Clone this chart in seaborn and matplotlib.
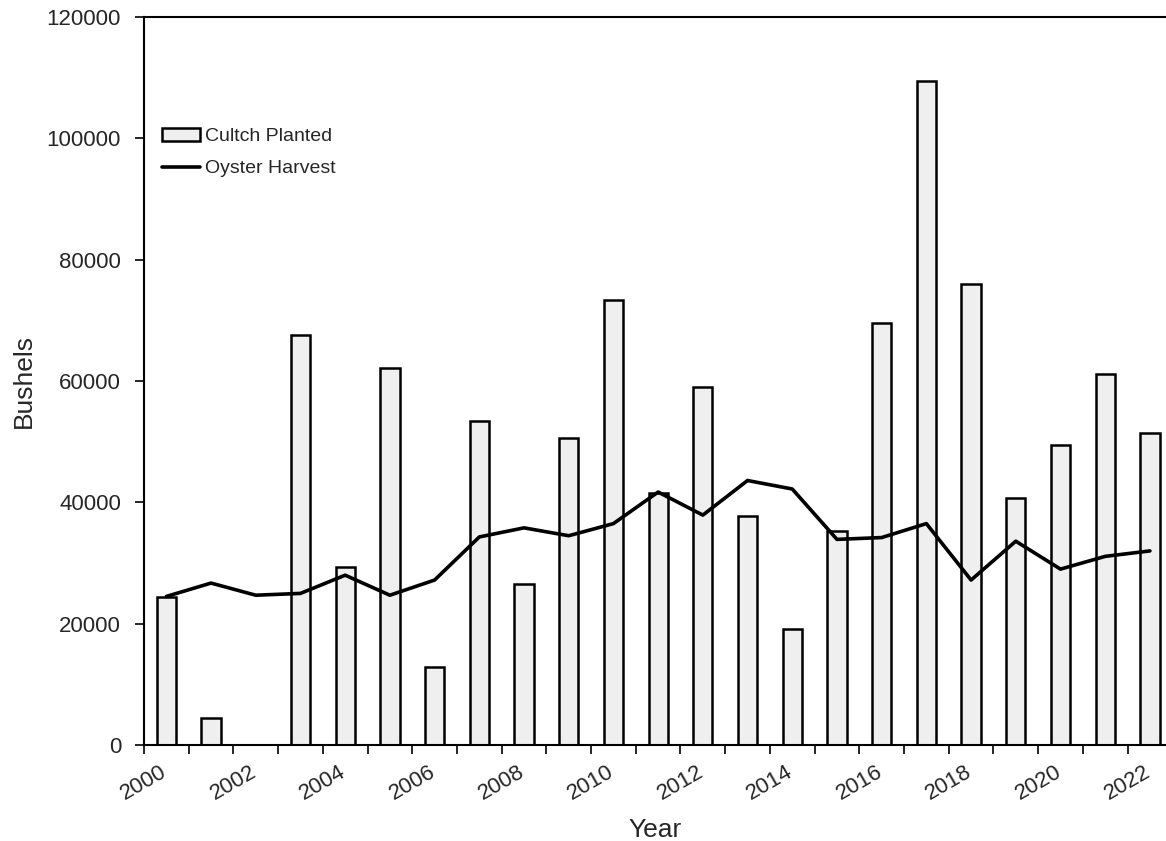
import numpy as np
import pandas as pd
import seaborn as sns
import matplotlib.pyplot as plt
from matplotlib.ticker import MultipleLocator

sns.set_style("white")
plt.rcParams['font.family'] = ['Liberation Sans', 'DejaVu Sans']

years = np.arange(2000, 2023)
cultch = [24400, 4500, 0, 67500, 29300, 62200, 12800, 53400, 26500, 50600,
          73400, 41500, 59000, 37700, 19100, 35200, 69600, 109500, 76000,
          40700, 49500, 61100, 51500]
harvest = [24500, 26700, 24700, 25000, 28000, 24700, 27200, 34300, 35800,
           34500, 36500, 41700, 37900, 43600, 42200, 33900, 34200, 36500,
           27200, 33600, 29000, 31100, 32000]

df = pd.DataFrame({"pos": years + 0.5, "cultch": cultch, "harvest": harvest})

fig = plt.figure(figsize=(11.66, 8.41), dpi=100)
ax = fig.add_axes([0.1235, 0.114, 0.8765, 0.866])

sns.barplot(data=df, x="pos", y="cultch", native_scale=True, width=0.43,
            color="#efefef", saturation=1, edgecolor="black", linewidth=1.8,
            label="Cultch Planted", ax=ax)
sns.lineplot(data=df, x="pos", y="harvest", color="black", linewidth=2.6,
             label="Oyster Harvest", ax=ax)

ax.set_xlim(2000, 2022.86)
ax.set_ylim(0, 120000)
ax.xaxis.set_major_locator(MultipleLocator(2))
ax.xaxis.set_minor_locator(MultipleLocator(1))
ax.yaxis.set_major_locator(MultipleLocator(20000))
ax.tick_params(axis="both", which="both", direction="out", length=6.5, width=1.2,
               color="black", labelsize=16, bottom=True, left=True)
ax.tick_params(axis="x", which="major", pad=5)
ax.tick_params(axis="y", which="major", pad=10)
for lbl in ax.get_xticklabels():
    lbl.set_rotation(30)
    lbl.set_ha("center")

for side in ["left", "bottom", "top"]:
    ax.spines[side].set_color("black")
    ax.spines[side].set_linewidth(1.5)
ax.spines["right"].set_visible(False)

ax.set_xlabel("Year", fontsize=19, labelpad=10)
ax.set_ylabel("Bushels", fontsize=19, labelpad=8)

handles, labels = ax.get_legend_handles_labels()
order = [labels.index("Cultch Planted"), labels.index("Oyster Harvest")]
ax.legend([handles[i] for i in order], [labels[i] for i in order],
          loc="upper left", bbox_to_anchor=(0.0, 0.872), frameon=False,
          fontsize=14, handlelength=2.0, handletextpad=0.25,
          labelspacing=0.75)

fig.savefig("out.png", dpi=100)
